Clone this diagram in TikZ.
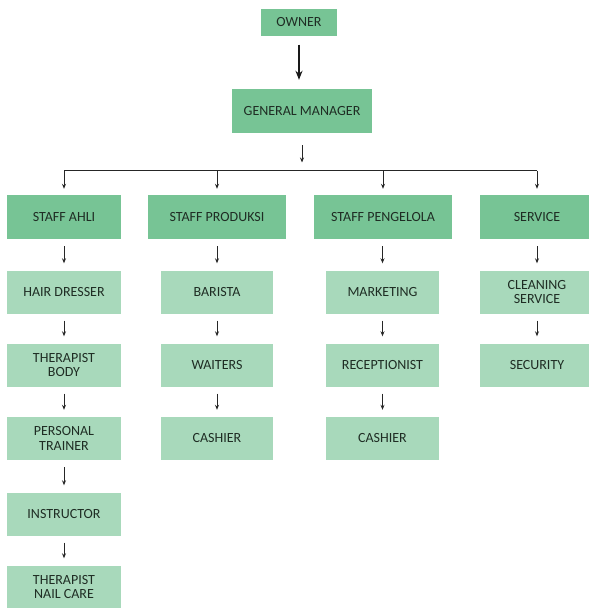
\documentclass[tikz,border=0pt]{standalone}
\usepackage{fontspec}
\setmainfont{Carlito}
\usetikzlibrary{arrows.meta}
\definecolor{darkbox}{HTML}{77C495}
\definecolor{lightbox}{HTML}{A8D9BB}
\definecolor{txt}{HTML}{1F2D24}
\tikzset{
  box/.style={inner sep=0pt, align=center, text=txt, font=\fontsize{14}{14.5}\selectfont},
  darkb/.style={box, fill=darkbox, minimum height=44pt},
  lightb/.style={box, fill=lightbox, minimum height=43pt},
  arr/.style={-{Stealth[length=5pt,width=4pt]}, line width=0.8pt, black!85},
  bigarr/.style={-{Stealth[length=9pt,width=7pt]}, line width=1.8pt, black!90},
}
\begin{document}
\begin{tikzpicture}[x=1pt,y=-1pt]
\useasboundingbox (0,0) rectangle (589,608);
\begin{scope}
\clip (0,0) rectangle (589,608);
% top
\node[darkb, minimum width=76pt, minimum height=27pt] (owner) at (299,22) {OWNER};
\node[darkb, minimum width=140pt] (gm) at (302,111) {GENERAL MANAGER};
% row 1
\node[darkb, minimum width=114pt] (ahli) at (64,217) {STAFF AHLI};
\node[darkb, minimum width=138pt] (prod) at (217,217) {STAFF PRODUKSI};
\node[darkb, minimum width=138pt] (peng) at (383,217) {STAFF PENGELOLA};
\node[darkb, minimum width=115pt] (serv) at (537,217) {SERVICE};
% column 1
\node[lightb, minimum width=114pt] (hair) at (64,292) {HAIR DRESSER};
\node[lightb, minimum width=114pt] (body) at (64,365) {THERAPIST\\BODY};
\node[lightb, minimum width=114pt] (pt) at (64,438.5) {PERSONAL\\TRAINER};
\node[lightb, minimum width=114pt] (instr) at (64,514) {INSTRUCTOR};
\node[lightb, minimum width=114pt] (nail) at (64,587) {THERAPIST\\NAIL CARE};
% column 2
\node[lightb, minimum width=112pt] (barista) at (217,292) {BARISTA};
\node[lightb, minimum width=112pt] (waiters) at (217,365) {WAITERS};
\node[lightb, minimum width=112pt] (cash1) at (217,438.5) {CASHIER};
% column 3
\node[lightb, minimum width=113pt] (mkt) at (382.5,292) {MARKETING};
\node[lightb, minimum width=113pt] (recep) at (382.5,365) {RECEPTIONIST};
\node[lightb, minimum width=113pt] (cash2) at (382.5,438.5) {CASHIER};
% column 4
\node[lightb, minimum width=115pt] (clean) at (537,292) {CLEANING\\SERVICE};
\node[lightb, minimum width=115pt] (sec) at (537,365) {SECURITY};
\end{scope}
% connectors
\draw[bigarr, shorten <=9pt, shorten >=9pt] (owner) -- (owner |- gm.north);
\coordinate (bus) at (302,170.5);
\draw[arr, shorten <=12pt, shorten >=8pt] (gm.south) -- (bus);
\draw[line width=0.8pt, black!85] (ahli.north |- bus) -- (serv.north |- bus);
\foreach \n in {ahli,prod,peng,serv}
  \draw[arr, shorten >=6pt] (\n.north |- bus) -- (\n.north);
\foreach \a/\b in {ahli/hair, hair/body, body/pt, pt/instr, instr/nail,
                   prod/barista, barista/waiters, waiters/cash1,
                   peng/mkt, mkt/recep, recep/cash2,
                   serv/clean, clean/sec}
  \draw[arr, shorten <=7pt, shorten >=7pt] (\b.north |- \a.south) -- (\b.north);
\end{tikzpicture}
\end{document}
